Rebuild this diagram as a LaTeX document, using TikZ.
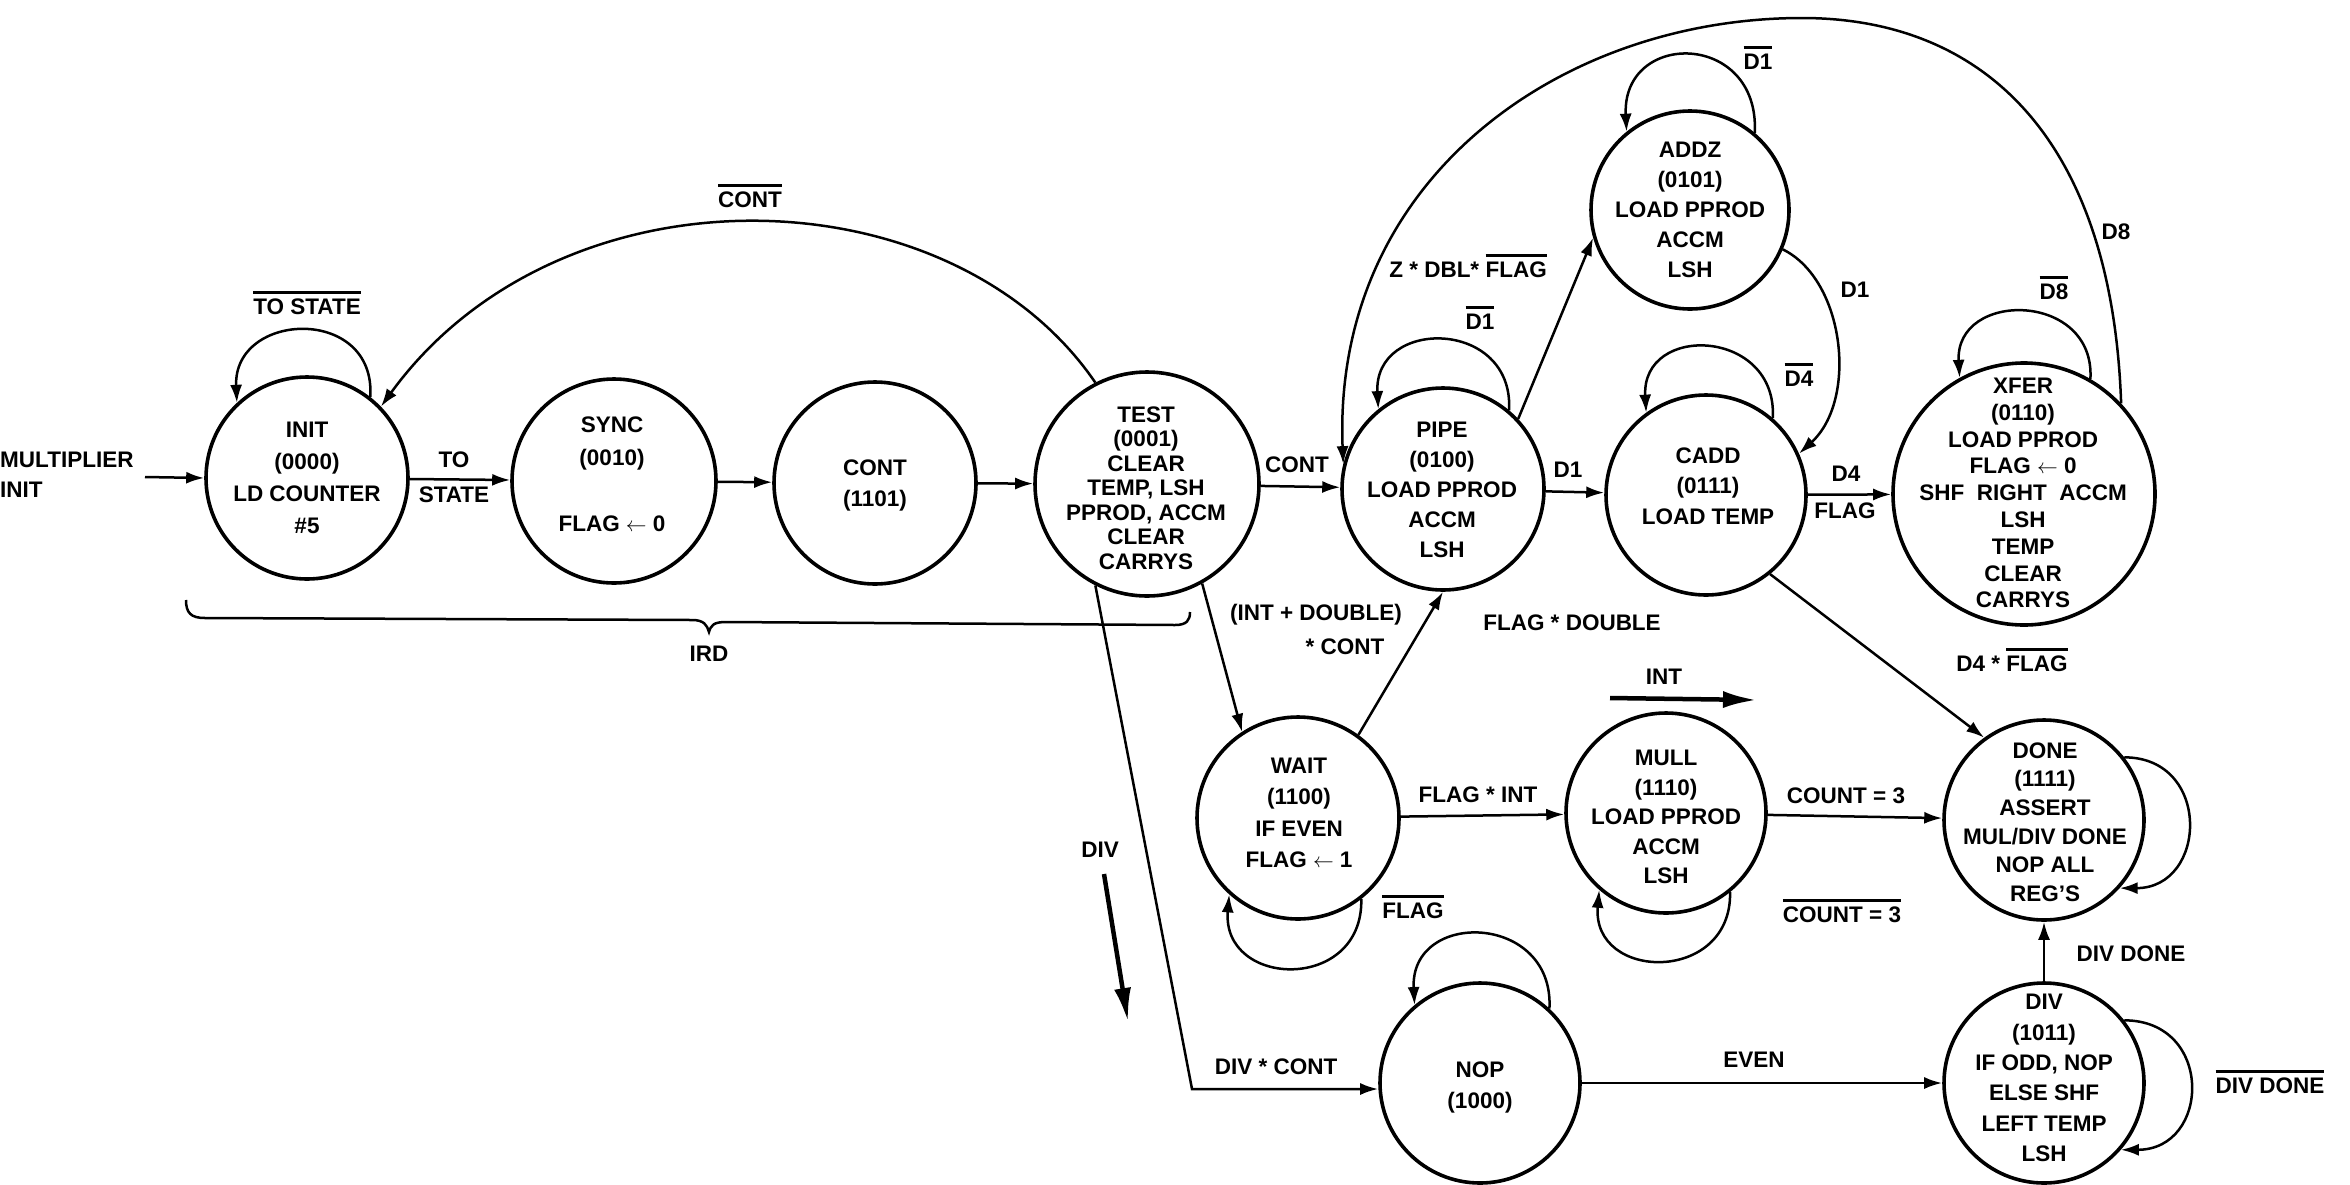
\documentclass[tikz,border=0pt]{standalone}
\usepackage{fontspec}
\setmainfont{Liberation Sans}
\usetikzlibrary{arrows.meta}
\newcommand\ovl[1]{\vbox{\hrule height 2.6pt\kern 5pt\hbox{#1}}}
\begin{document}
\begin{tikzpicture}[x=1pt,y=-1pt,
  state/.style={draw, circle, line width=3.6pt, inner sep=0pt, minimum size=#1},
  stxt/.style={align=center, inner sep=0pt, font=\bfseries\fontsize{22.5}{#1}\selectfont},
  lbl/.style={inner sep=0pt, font=\bfseries\fontsize{22.5}{28}\selectfont},
  arr/.style={line width=2.5pt, -{Latex[length=18pt,width=12pt]}},
  bigarr/.style={line width=4.5pt, -{Latex[length=34pt,width=17pt]}},
  brace/.style={line width=2.5pt}
]
\fill[white] (0,0) rectangle (2350,1184);
\useasboundingbox (0,0) rectangle (2350,1184);

% states
\node[state=202pt] (init) at (307,478) {};
\node[state=204pt] (sync) at (614,481) {};
\node[state=202pt] (cont) at (875,483) {};
\node[state=224pt] (test) at (1147,484) {};
\node[state=202pt] (pipe) at (1443,489) {};
\node[state=198pt] (addz) at (1690,210) {};
\node[state=200pt] (cadd) at (1706,495) {};
\node[state=262pt] (xfer) at (2024,494) {};
\node[state=202pt] (wait) at (1298,818) {};
\node[state=200pt] (mull) at (1666,813) {};
\node[state=200pt] (done) at (2044,820) {};
\node[state=200pt] (div)  at (2044,1083) {};
\node[state=200pt] (nop)  at (1480,1083) {};

% state texts
\node[stxt=32] (initt) at (307,478) {INIT\\(0000)\\LD COUNTER\\\#5};
\node[stxt=33] (synct) at (612,474) {SYNC\\(0010)\\ \\FLAG $\leftarrow$ 0};
\node[stxt=31] (contt) at (875,485) {CONT\\(1101)};
\node[stxt=24.5] (testt) at (1146,488) {TEST\\(0001)\\CLEAR\\TEMP, LSH\\PPROD, ACCM\\CLEAR\\CARRYS};
\node[stxt=30] (pipet) at (1442,490) {PIPE\\(0100)\\LOAD PPROD\\ACCM\\LSH};
\node[stxt=30] (addzt) at (1690,210) {ADDZ\\(0101)\\LOAD PPROD\\ACCM\\LSH};
\node[stxt=30.5] (caddt) at (1708,486) {CADD\\(0111)\\LOAD TEMP};
\node[stxt=26.8] (xfert) at (2023,493) {XFER\\(0110)\\LOAD PPROD\\FLAG $\leftarrow$ 0\\SHF\ \ RIGHT\ \ ACCM\\LSH\\TEMP\\CLEAR\\CARRYS};
\node[stxt=31.3] (waitt) at (1299,813) {WAIT\\(1100)\\IF EVEN\\FLAG $\leftarrow$ 1};
\node[stxt=29.5] (mullt) at (1666,817) {MULL\\(1110)\\LOAD PPROD\\ACCM\\LSH};
\node[stxt=28.6] (donet) at (2045,822) {DONE\\(1111)\\ASSERT\\MUL/DIV DONE\\NOP ALL\\REG’S};
\node[stxt=30.4] (divt) at (2044,1078) {DIV\\(1011)\\IF ODD, NOP\\ELSE SHF\\LEFT TEMP\\LSH};
\node[stxt=31] (nopt) at (1480,1087) {NOP\\(1000)};

% entry
\node[lbl, anchor=west, align=left, font=\bfseries\fontsize{22.5}{30}\selectfont] (mlbl) at (0,475) {MULTIPLIER\\INIT};
\coordinate (mstart) at (145,477);
\draw[arr] (mstart) -- (init.west);

% straight transitions
\draw[arr] (init) -- (sync);
\draw[arr] (sync) -- (cont);
\draw[arr] (cont) -- (test);
\draw[arr] (test) -- (pipe);
\draw[arr] (pipe) -- (cadd);
\draw[arr] (cadd) -- (xfer);
\draw[arr] (wait) -- (mull);
\draw[arr] (mull) -- (done);
\draw[arr] (div) -- (done);
\draw[arr] (nop) -- (div);
\draw[arr] (test.-61) -- (wait.123);
\draw[arr] (wait.54) -- (pipe.south);
\draw[arr] (pipe.43) -- (addz.196);
\draw[arr] (cadd.-51) -- (done.126);
\coordinate (divc) at (1192,1089);
\draw[arr] (test.-117) -- (divc) -- (divc -| nop.west);

% curved transitions
\draw[arr] (addz.-23) .. controls (1845,280) and (1858,400) .. (cadd.24);
\draw[arr] (test.117) .. controls (950,170) and (560,160) .. (init.44);
\draw[arr] (xfer.43) .. controls (2112,140) and (1985,18) .. (1802,18)
                     .. controls (1560,18) and (1332,180) .. (pipe.166);

% self loops
\draw[arr] (init.52) .. controls +(6,-92) and +(-4,-92) .. (init.133);
\draw[arr] (pipe.50) .. controls +(5,-92) and +(-5,-92) .. (pipe.129);
\draw[arr] (cadd.49) .. controls +(5,-90) and +(-5,-90) .. (cadd.126);
\draw[arr] (addz.50) .. controls +(5,-102) and +(-5,-102) .. (addz.129);
\draw[arr] (xfer.60) .. controls +(5,-88) and +(-5,-88) .. (xfer.119);
\draw[arr] (nop.47) .. controls +(5,-96) and +(-5,-96) .. (nop.130);
\draw[arr] (wait.-52) .. controls +(2,94) and +(-8,94) .. (wait.-132);
\draw[arr] (mull.-51) .. controls +(2,92) and +(-8,92) .. (mull.-131);
\draw[arr] (done.38) .. controls +(88,0) and +(88,0) .. (done.-42);
\draw[arr] (div.38) .. controls +(90,0) and +(90,0) .. (div.-41);

% brace
\draw[brace] (186,600) .. controls (186,613) and (191,618) .. (205,618) -- (692,620)
  .. controls (704,620) and (707,625) .. (709,632)
  .. controls (711,625) and (714,622) .. (726,622) -- (1175,625)
  .. controls (1187,625) and (1190,620) .. (1190,612);

% thick arrows
\coordinate (divA) at (1104,874);
\coordinate (divB) at (1128,1022);
\draw[bigarr] (divA) -- (divB);
\coordinate (intA) at (1610,698);
\coordinate (intB) at (1757,700);
\draw[bigarr] (intA) -- (intB);

% labels
\node[lbl] (lto) at (454,460) {TO};
\node[lbl] (lstate) at (454,495) {STATE};
\node[lbl] (ltostate) at (307,303) {\ovl{TO STATE}};
\node[lbl] (lcontbar) at (750,196) {\ovl{CONT}};
\node[lbl] (lird) at (709,654) {IRD};
\node[lbl] (lcont2) at (1297,465) {CONT};
\node[lbl] (lintdbl) at (1316,615) {(INT + DOUBLE)};
\node[lbl] (lintdbl2) at (1345,647) {* CONT};
\node[lbl] (ldiv) at (1100,850) {DIV};
\node[lbl] (ldivcont) at (1276,1067) {DIV * CONT};
\node[lbl] (lzdbl) at (1468,266) {Z * DBL* \ovl{FLAG}};
\node[lbl] (ld1p) at (1480,318) {\ovl{D1}};
\node[lbl] (ld1) at (1568,470) {D1};
\node[lbl] (ld1a) at (1758,58) {\ovl{D1}};
\node[lbl] (ld1b) at (1855,290) {D1};
\node[lbl] (ld4c) at (1799,375) {\ovl{D4}};
\node[lbl] (ld8) at (2116,232) {D8};
\node[lbl] (ld8x) at (2054,288) {\ovl{D8}};
\node[lbl] (ld4) at (1846,474) {D4};
\node[lbl] (lflag) at (1845,511) {FLAG};
\node[lbl] (lflagdbl) at (1572,623) {FLAG * DOUBLE};
\node[lbl] (ld4flag) at (2012,660) {D4 * \ovl{FLAG}};
\node[lbl] (lint) at (1664,677) {INT};
\node[lbl] (lflagint) at (1478,795) {FLAG * INT};
\node[lbl] (lflagw) at (1413,907) {\ovl{FLAG}};
\node[lbl] (lcount) at (1846,796) {COUNT = 3};
\node[lbl] (lcountb) at (1842,911) {\ovl{COUNT = 3}};
\node[lbl] (ldivdone) at (2131,954) {DIV DONE};
\node[lbl] (ldivdoneb) at (2270,1082) {\ovl{DIV DONE}};
\node[lbl] (leven) at (1754,1060) {EVEN};
\end{tikzpicture}
\end{document}
